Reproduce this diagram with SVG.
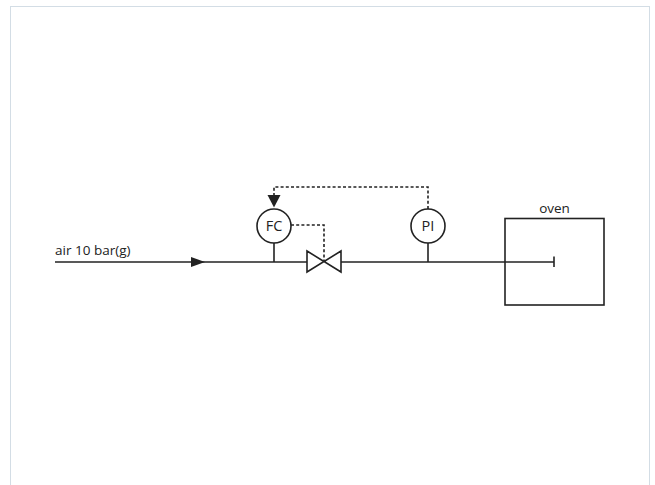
<svg xmlns="http://www.w3.org/2000/svg" width="655" height="485" viewBox="0 0 655 485">
<style>
.ln{fill:none;stroke:#222;stroke-width:1.6}
.dash{fill:none;stroke:#222;stroke-width:1.6;stroke-dasharray:3 2.2}
.sym{fill:#fff;stroke:#222;stroke-width:1.6}
.txt{font-family:"Open Sans","Liberation Sans",sans-serif;font-size:13.5px;fill:#222}
.tag{font-size:14.5px}
</style>
<defs>
<marker id="flow" viewBox="0 0 14 10" refX="14" refY="5" markerWidth="14" markerHeight="10" markerUnits="userSpaceOnUse" orient="auto">
<path d="M0,0 L14,5 L0,10 Z" fill="#222"/>
</marker>
</defs>
<rect x="0" y="0" width="655" height="485" fill="#fff"/>
<rect x="10.5" y="6.5" width="639" height="490" fill="#fff" stroke="#d3dde5" stroke-width="1"/>
<g id="connectors">
<line class="ln" x1="55" y1="262" x2="205" y2="262" marker-end="url(#flow)"/>
<line class="ln" x1="205" y1="262" x2="307" y2="262"/>
<line class="ln" x1="341" y1="262" x2="554" y2="262"/>
<line class="ln" x1="554" y1="256.5" x2="554" y2="267"/>
<line class="ln" x1="274" y1="243" x2="274" y2="262"/>
<line class="ln" x1="428" y1="243" x2="428" y2="262"/>
<polyline class="dash" points="291,225 324,225 324,261"/>
<polyline class="dash" points="428,209 428,187 274,187 274,195"/>
<path d="M267.5,195 L280.5,195 L274,207.5 Z" fill="#222"/>
</g>
<g id="air-label">
<text class="txt" x="55" y="255">air 10 bar(g)</text>
</g>
<g id="FC">
<circle class="sym" cx="274" cy="226" r="17"/>
<text class="txt tag" x="274" y="231" text-anchor="middle">FC</text>
</g>
<g id="PI">
<circle class="sym" cx="428" cy="226" r="17"/>
<text class="txt tag" x="428" y="231" text-anchor="middle">PI</text>
</g>
<g id="valve">
<path class="sym" d="M307,251 L307,272 L324,261.5 Z M341,251 L341,272 L324,261.5 Z" stroke-linejoin="miter"/>
</g>
<g id="oven">
<rect x="505" y="218.5" width="99" height="86.5" fill="none" stroke="#222" stroke-width="1.6"/>
<text class="txt" x="554.5" y="213" text-anchor="middle">oven</text>
</g>
</svg>
